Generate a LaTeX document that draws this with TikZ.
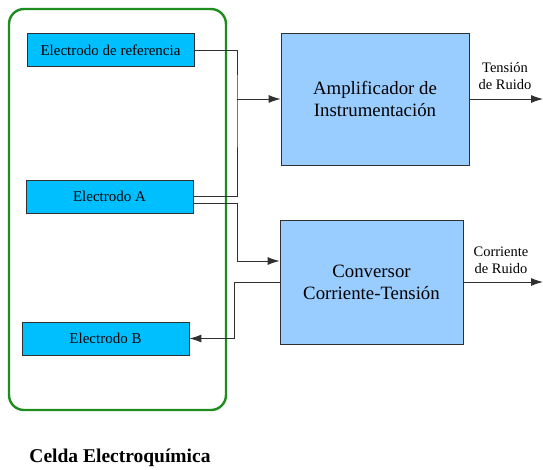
\documentclass[tikz,border=0pt]{standalone}
\usepackage{fontspec}
\setmainfont{Liberation Serif}
\usepackage{xcolor}
\usetikzlibrary{arrows.meta}
\usetikzlibrary{shapes,positioning}

\definecolor{electrodo}{HTML}{00BFFF}
\definecolor{bloque}{HTML}{99CCFF}
\definecolor{celda}{HTML}{1E8C1E}
\definecolor{linea}{HTML}{303030}

\tikzset{
  elecbox/.style={draw=linea, fill=electrodo, line width=0.8pt, inner sep=0pt,
    minimum width=167pt, minimum height=33pt, font=\fontsize{15}{17}\selectfont},
  blockbox/.style={draw=linea, fill=bloque, line width=0.8pt, inner sep=0pt,
    align=center, font=\fontsize{18.8}{22}\selectfont},
  wire/.style={draw=linea, line width=0.9pt},
  outlabel/.style={align=center, font=\fontsize{14.5}{17}\selectfont}
}

\begin{document}
\begin{tikzpicture}[x=1pt, y=-1pt, >={Latex[length=12pt,width=8pt]}]
            \useasboundingbox (0,0) rectangle (543,469);

            % the cell
            \draw[celda, line width=2.4pt, rounded corners=15pt] (9,9) rectangle (226,410);
            \node[font=\bfseries\fontsize{19.5}{22}\selectfont] (celdalabel) at (120,458) {Celda Electroquímica};

            % the electrodes
            \node[elecbox] (elecref) at (110.5,50) {Electrodo de referencia};
            \node[elecbox] (elecA) at (109.5,196.5) {Electrodo A};
            \node[elecbox] (elecB) at (105.5,338.5) {Electrodo B};

            % the blocks
            \node[blockbox, minimum width=188pt, minimum height=132pt] (amp) at (375,99) {Amplificador de\\Instrumentación};
            \node[blockbox, minimum width=183pt, minimum height=124pt] (conv) at (371.5,282) {Conversor\\Corriente-Tensión};

            % the wires
            \coordinate (j1) at (237,99);
            \coordinate (j2) at (237,261);
            \coordinate (j3) at (234,282);
            \draw[wire] (elecref.east) -| (j1) |- (elecA.east);
            \draw[wire, ->] (j1) -- (amp.west);
            \draw[wire, ->] ([yshift=-6.5pt]elecA.east) -| (j2) -- (conv.west |- j2);
            \draw[wire, ->] (conv.west) -- (j3) |- (elecB.east);

            % the outputs and labels
            \coordinate (out1) at (543,99);
            \coordinate (out2) at (543,282);
            \draw[wire, ->] (amp.east) -- (out1);
            \draw[wire, ->] (conv.east) -- (out2);
            \node[outlabel] (tension) at (505,76) {Tensión\\de Ruido};
            \node[outlabel] (corriente) at (501,260) {Corriente\\de Ruido};
        \end{tikzpicture}
\end{document}
